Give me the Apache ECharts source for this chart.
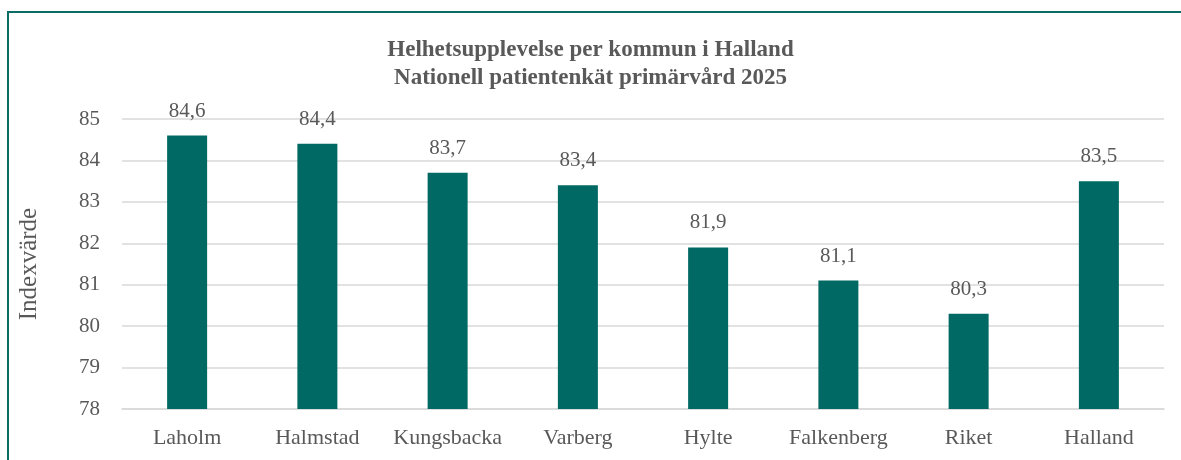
<!DOCTYPE html>
<html><head><meta charset="utf-8">
<script src="https://cdn.jsdelivr.net/npm/echarts@6/dist/echarts.min.js"></script>
<style>
html,body{margin:0;padding:0;background:#fff;}
#frame{position:absolute;left:7px;top:11px;width:1190px;height:470px;border:2px solid #0b6b65;box-sizing:border-box;}
#c{position:absolute;left:0;top:0;width:1181px;height:460px;}
</style></head>
<body>
<div id="frame"></div>
<div id="c"></div>
<script>
const categories = ["Laholm","Halmstad","Kungsbacka","Varberg","Hylte","Falkenberg","Riket","Halland"];
const values = [84.6, 84.4, 83.7, 83.4, 81.9, 81.1, 80.3, 83.5];
const titleLines = ["Helhetsupplevelse per kommun i Halland","Nationell patientenkät primärvård 2025"];
const yAxisName = "Indexvärde";

const font = "'Liberation Serif', 'DejaVu Serif', serif";
const chart = echarts.init(document.getElementById('c'), null, {renderer:'canvas'});
chart.setOption({
  animation:false,
  title:{
    text: titleLines.join("\n"),
    left:'center', top:31,
    textStyle:{fontFamily:font,fontSize:23,fontWeight:'bold',color:'#595959',lineHeight:28}
  },
  grid:{left:122,right:17,top:119,bottom:51,containLabel:false},
  xAxis:{
    type:'category', data:categories,
    axisLine:{show:true,lineStyle:{color:'#d9d9d9',width:1.5}},
    axisTick:{show:false},
    axisLabel:{fontFamily:font,fontSize:22,color:'#595959',margin:18,interval:0,hideOverlap:false}
  },
  yAxis:{
    type:'value', min:78, max:85, interval:1,
    name:yAxisName, nameLocation:'middle', nameGap:80,
    nameTextStyle:{fontFamily:font,fontSize:25,color:'#595959'},
    axisLine:{show:false}, axisTick:{show:false},
    axisLabel:{fontFamily:font,fontSize:21,color:'#595959',margin:22},
    splitLine:{lineStyle:{color:'#d9d9d9',width:1.5}}
  },
  series:[{
    type:'bar', data:values, barWidth:40,
    itemStyle:{color:'#006963'},
    label:{show:true,position:'top',distance:14,fontFamily:font,fontSize:21,color:'#595959',
      formatter:p=>p.value.toFixed(1).replace('.',',')}
  }]
});
</script>
</body></html>
